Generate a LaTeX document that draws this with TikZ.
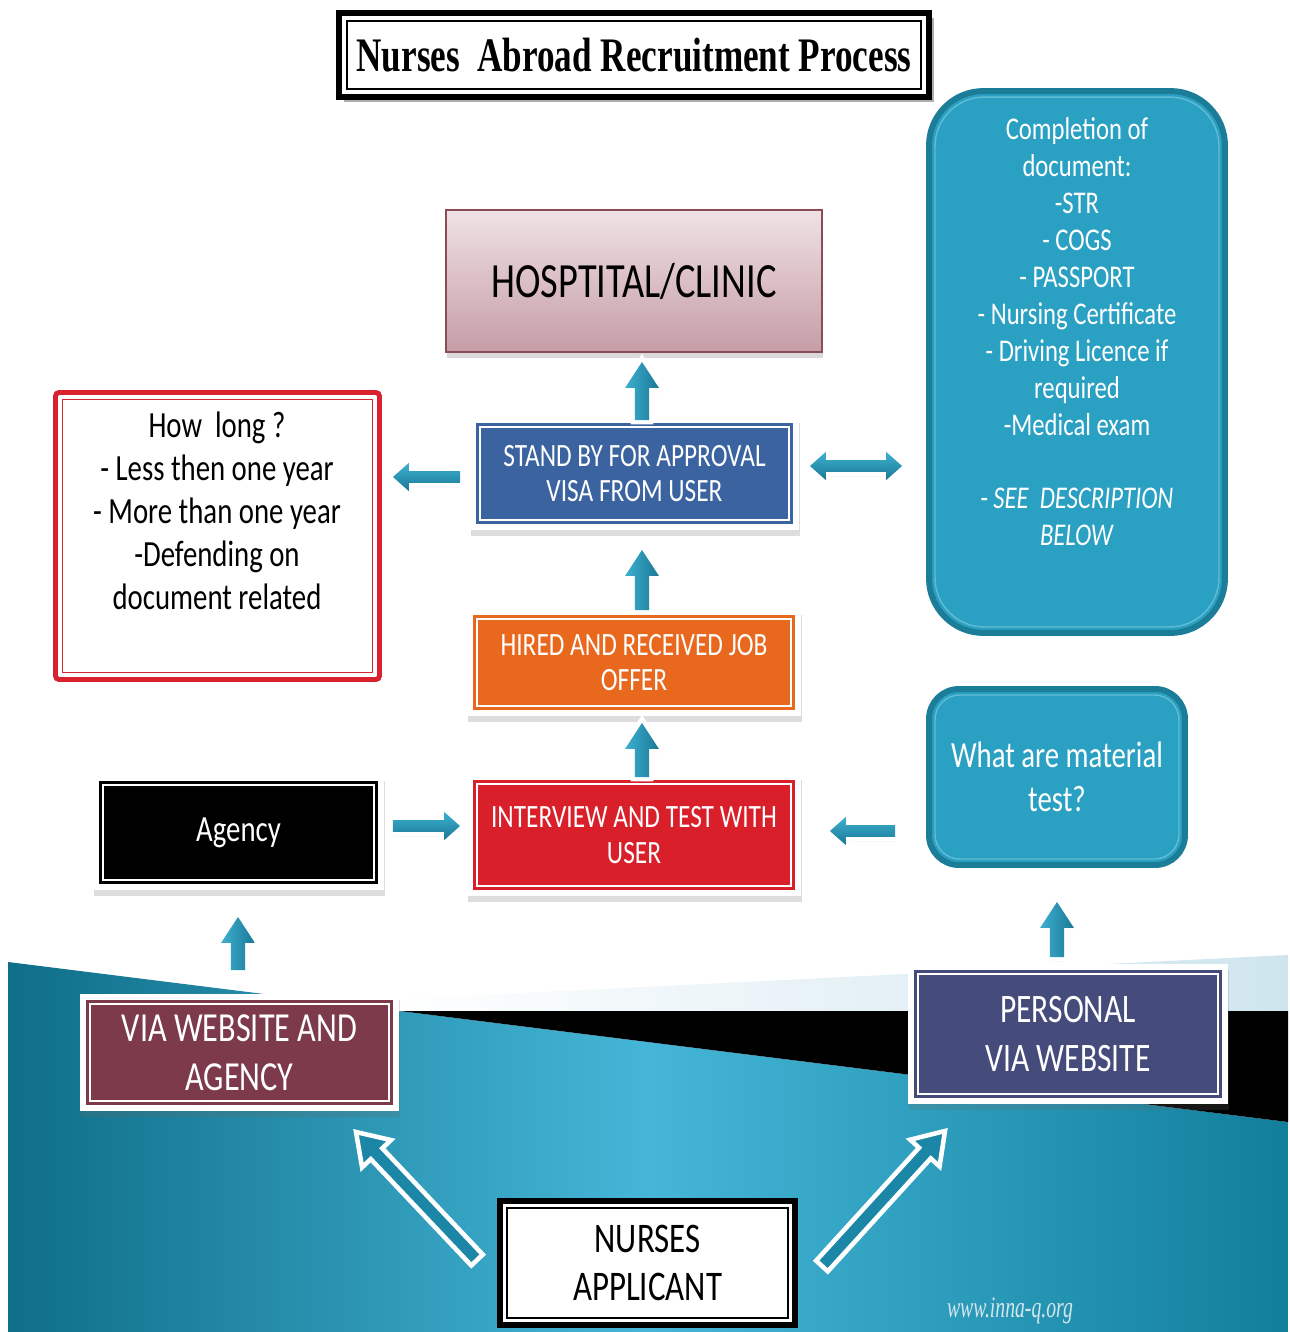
\documentclass[tikz,border=0pt]{standalone}
\usepackage{fontspec}
\setmainfont[FakeStretch=0.78]{Carlito}
\newfontfamily\titlefont[FakeStretch=0.73]{Liberation Serif}
\newfontfamily\wwwfont[FakeStretch=0.66]{Liberation Serif}
\usetikzlibrary{arrows.meta,shadows,calc}

\definecolor{hospTop}{HTML}{EFE2E5}
\definecolor{hospBot}{HTML}{C69DA6}
\definecolor{hospEdge}{HTML}{8B4B57}
\definecolor{standBlue}{HTML}{3B63A0}
\definecolor{hireOrange}{HTML}{E8681E}
\definecolor{interRed}{HTML}{D81F2A}
\definecolor{viaMaroon}{HTML}{7C3A4B}
\definecolor{persNavy}{HTML}{454C7C}
\definecolor{docTeal}{HTML}{2AA0C2}
\definecolor{docEdge}{HTML}{1C7D99}
\definecolor{docLine}{HTML}{62BCD6}
\definecolor{longRed}{HTML}{D9222F}
\definecolor{arrLight}{HTML}{3DB0D0}
\definecolor{arrDark}{HTML}{1B7896}
\definecolor{hollowTeal}{HTML}{1B86A6}
\definecolor{bgLeft}{HTML}{0F6E88}
\definecolor{bgMid}{HTML}{45B6D8}
\definecolor{bgRight}{HTML}{117F9C}
\definecolor{paleBand}{HTML}{CFE5EE}
\definecolor{wwwGrey}{HTML}{D5E6EC}

% block arrow polygon: style, tail, tip, half shaft, half head, head length
\newcommand\blockarr[6]{%
  \coordinate (ba-neck) at ($(#3)!#6!(#2)$);
  \path[#1] ($(#2)!#4!90:(#3)$) -- ($(ba-neck)!#4!90:(#3)$) -- ($(ba-neck)!#5!90:(#3)$) -- (#3)
    -- ($(ba-neck)!#5!-90:(#3)$) -- ($(ba-neck)!#4!-90:(#3)$) -- ($(#2)!#4!-90:(#3)$) -- cycle;
}
% two-headed block arrow: style, end A, end B, half shaft, half head, head length
\newcommand\dblarr[6]{%
  \coordinate (da-n1) at ($(#2)!#6!(#3)$);
  \coordinate (da-n2) at ($(#3)!#6!(#2)$);
  \path[#1] (#2) -- ($(da-n1)!#5!90:(#3)$) -- ($(da-n1)!#4!90:(#3)$) -- ($(da-n2)!#4!90:(#3)$)
    -- ($(da-n2)!#5!90:(#3)$) -- (#3) -- ($(da-n2)!#5!-90:(#3)$) -- ($(da-n2)!#4!-90:(#3)$)
    -- ($(da-n1)!#4!-90:(#3)$) -- ($(da-n1)!#5!-90:(#3)$) -- cycle;
}

\begin{document}
\begin{tikzpicture}[x=0.02cm, y=-0.02cm,
  cbox/.style={
    drop shadow={shadow xshift=0.5pt, shadow yshift=-3.5pt, opacity=.22,
                 fill=black!60, draw=black!60, line width=11.3pt},
    preaction={draw=white, fill=white, line width=11.3pt},
    fill=#1, draw=#1, line width=4.5pt,
    postaction={draw=white, line width=0.9pt},
    text=white, align=center, inner sep=0pt, outer sep=0pt},
  framebox/.style={draw=black, line width=3.4pt, fill=white, inner sep=0pt, outer sep=0pt,
    align=center},
  tealbox/.style={draw=docEdge, line width=3.4pt, fill=docTeal, inner sep=0pt, outer sep=0pt,
    text=white, align=center},
  barrow/.style={drop shadow={shadow xshift=0.5pt, shadow yshift=-2.5pt, opacity=.25},
    preaction={draw=white, line width=5pt, line join=miter}},
  uparrow/.style={barrow, left color=arrLight, right color=arrDark},
  sidearrow/.style={barrow, top color=arrLight, bottom color=arrDark},
  harrow/.style={fill=hollowTeal, draw=white, line width=2.6pt, line join=miter},
  fs/.style 2 args={font=\fontsize{#1}{#2}\selectfont},
]
\useasboundingbox (0,0) rectangle (1290,1332);

% ---- background bands ----
\shade[left color=bgLeft, right color=bgRight, middle color=bgMid]
  (8,962) -- (1288,1122) -- (1288,1332) -- (8,1332) -- cycle;
\shade[left color=white, right color=paleBand]
  (380,1011) -- (380,1000) -- (1288,955) -- (1288,1011) -- cycle;
\fill[black] (400,1011) -- (1288,1011) -- (1288,1122) -- cycle;

% ---- title ----
\node[framebox, minimum width=11.8cm, minimum height=1.68cm,
  drop shadow={shadow xshift=3pt, shadow yshift=-3pt, opacity=.45, fill=black!70},
  font=\titlefont\bfseries\fontsize{27.4pt}{30pt}\selectfont] (title) at (634,55)
  {Nurses~~Abroad Recruitment Process};
\draw[line width=0.9pt] ([shift={(8,8)}]title.north west) rectangle ([shift={(-8,-8)}]title.south east);

% ---- central column ----
\node[top color=hospTop, bottom color=hospBot, draw=hospEdge, line width=1pt,
  minimum width=7.52cm, minimum height=2.84cm, inner sep=0pt, outer sep=0pt,
  drop shadow={shadow xshift=0.5pt, shadow yshift=-3.5pt, opacity=.25, fill=black!60},
  fs={28pt}{30pt}] (hosp) at (634,281) {HOSPTITAL/CLINIC};

\node[cbox=standBlue, minimum width=6.18cm, minimum height=1.86cm, fs={18.5pt}{20.4pt}]
  (standby) at (634.5,473.5) {STAND BY FOR APPROVAL\\VISA FROM USER};
\node[cbox=hireOrange, minimum width=6.28cm, minimum height=1.74cm, fs={18.5pt}{20.4pt}]
  (hired) at (634,662.5) {HIRED AND RECEIVED JOB\\OFFER};
\node[cbox=interRed, minimum width=6.28cm, minimum height=2.04cm, fs={18.5pt}{20.4pt}]
  (interview) at (634,835) {INTERVIEW AND TEST WITH\\USER};

% ---- left column ----
\node[draw=longRed, line width=2.8pt, fill=white, rounded corners=2pt, inner sep=0pt,
  outer sep=0pt, minimum width=6.48cm, minimum height=5.74cm] (howlong) at (217.5,536) {};
\draw[longRed, line width=1pt] ([shift={(7,7)}]howlong.north west)
  rectangle ([shift={(-7,-7)}]howlong.south east);
\node[align=center, fs={21pt}{24.4pt}] (longtext) at (217,511)
  {How~~long ?\\- Less then one year\\- More than one year\\-Defending on\\document related};

\node[cbox=black, minimum width=5.42cm, minimum height=1.90cm, fs={21pt}{24pt}]
  (agency) at (238.5,832.5) {Agency};
\node[cbox=viaMaroon, minimum width=5.98cm, minimum height=1.94cm, fs={23.5pt}{27.8pt}]
  (via) at (239.5,1052.5) {VIA WEBSITE AND\\AGENCY};

% ---- right column ----
\node[tealbox, rounded corners=31pt, minimum width=5.92cm, minimum height=10.84cm]
  (docs) at (1077,362) {};
\draw[docLine, line width=0.8pt, rounded corners=28pt] ([shift={(6,6)}]docs.north west)
  rectangle ([shift={(-6,-6)}]docs.south east);
\node[text=white, align=center, fs={18pt}{21pt}] (doctext) at (1077,332)
  {Completion of\\document:\\-STR\\- COGS\\- PASSPORT\\- Nursing Certificate\\- Driving Licence if\\required\\-Medical exam\\[21pt]-\,\textit{SEE~~DESCRIPTION}\\\textit{BELOW}};

\node[tealbox, rounded corners=17pt, minimum width=5.12cm, minimum height=3.52cm,
  fs={21pt}{25pt}] (material) at (1057,777) {What are material\\test?};
\draw[docLine, line width=0.8pt, rounded corners=14pt] ([shift={(6,6)}]material.north west)
  rectangle ([shift={(-6,-6)}]material.south east);

\node[cbox=persNavy, minimum width=6.0cm, minimum height=2.4cm, fs={23pt}{27.8pt}]
  (personal) at (1068,1034) {PERSONAL\\VIA WEBSITE};

% ---- applicant ----
\node[framebox, minimum width=5.9cm, minimum height=2.48cm, fs={24pt}{27.8pt}]
  (applicant) at (647.5,1263) {NURSES\\APPLICANT};
\draw[line width=0.9pt] ([shift={(7,7)}]applicant.north west)
  rectangle ([shift={(-7,-7)}]applicant.south east);

\node[text=wwwGrey, font=\wwwfont\itshape\fontsize{17pt}{17pt}\selectfont] (web) at (1010,1311)
  {www.inna-q.org};

% ---- arrow end points ----
\coordinate (a1t) at ($(standby.north)+(7.5,-7)$);
\coordinate (a1h) at ($(hosp.south)+(8,10)$);
\coordinate (a2t) at ($(hired.north)+(8,-9)$);
\coordinate (a2h) at ($(standby.south)+(7.5,30)$);
\coordinate (a3t) at ($(interview.north)+(8,-7)$);
\coordinate (a3h) at ($(hired.south)+(8,17)$);
\coordinate (a4t) at ($(via.north)+(-1.5,-34)$);
\coordinate (a4h) at ($(agency.south)+(-0.5,37)$);
\coordinate (a5t) at ($(personal.north)+(-11,-17)$);
\coordinate (a5h) at ($(material.south)+(0,37)$);
\coordinate (h1t) at ($(standby.west)+(-20,3.5)$);
\coordinate (h1h) at ($(howlong.east)+(13.5,-59)$);
\coordinate (h2a) at ($(standby.east)+(21,-7.5)$);
\coordinate (h2b) at ($(docs.west)+(-27,104)$);
\coordinate (h3t) at ($(agency.east)+(19,-6.5)$);
\coordinate (h3h) at ($(interview.west)+(-17,-9)$);
\coordinate (h4t) at ($(material.west)+(-34,54)$);
\coordinate (h4h) at ($(interview.east)+(39,-4)$);
\coordinate (d1t) at ($(applicant.west)+(-23,-3)$);
\coordinate (d1h) at ($(via.south)+(116.5,31)$);
\coordinate (d2t) at ($(applicant.east)+(27,3)$);
\coordinate (d2h) at ($(personal.south)+(-123,37)$);

% ---- arrows ----
\blockarr{uparrow}{a1t}{a1h}{4pt}{9.6pt}{14.7pt}
\blockarr{uparrow}{a2t}{a2h}{4pt}{9.6pt}{14.7pt}
\blockarr{uparrow}{a3t}{a3h}{4pt}{9.6pt}{14.7pt}
\blockarr{uparrow}{a4t}{a4h}{4pt}{9.6pt}{14.7pt}
\blockarr{uparrow}{a5t}{a5h}{4pt}{9.6pt}{14.7pt}
\blockarr{sidearrow}{h1t}{h1h}{3.4pt}{8pt}{9pt}
\dblarr{sidearrow}{h2a}{h2b}{3.4pt}{8pt}{9pt}
\blockarr{sidearrow}{h3t}{h3h}{3.4pt}{8pt}{9pt}
\blockarr{sidearrow}{h4t}{h4h}{3.4pt}{8pt}{9pt}
\blockarr{harrow}{d1t}{d1h}{4.5pt}{11.3pt}{17pt}
\blockarr{harrow}{d2t}{d2h}{4.5pt}{11.3pt}{17pt}
\end{tikzpicture}
\end{document}
